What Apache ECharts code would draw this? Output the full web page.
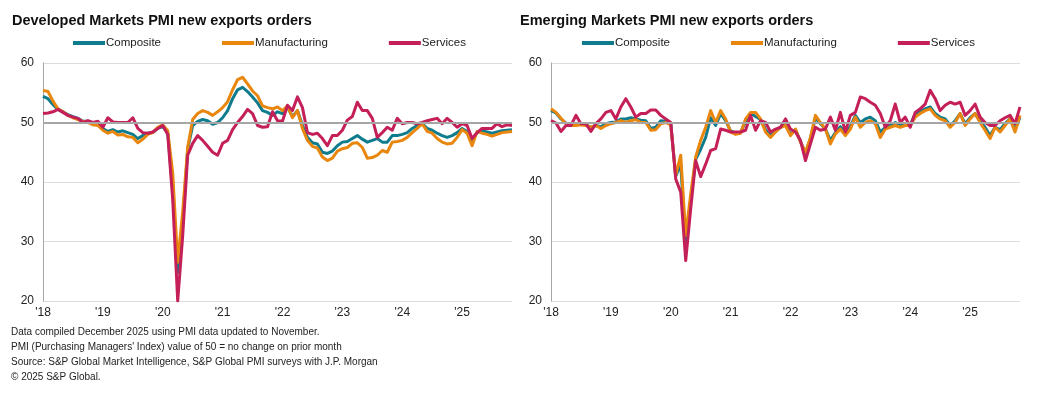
<!DOCTYPE html>
<html>
<head>
<meta charset="utf-8">
<script src="https://cdn.jsdelivr.net/npm/echarts@6/dist/echarts.min.js"></script>
<style>
html,body{margin:0;padding:0;background:#fff;}
#chart{width:1038px;height:393px;}
</style>
</head>
<body>
<div id="chart"></div>
<script>
// Monthly categories Jan 2018 .. Nov 2025
const months = [];
for (let y = 2018; y <= 2025; y++) {
  for (let m = 1; m <= 12; m++) {
    if (y === 2025 && m > 11) break;
    months.push(y + '-' + (m < 10 ? '0' + m : m));
  }
}
const tickLabels = ["'18","'19","'20","'21","'22","'23","'24","'25"];
const seriesNames = ['Composite', 'Manufacturing', 'Services'];

// Developed markets
const dmComposite = [54.4,54.0,53.0,52.2,51.8,51.3,51.0,50.7,50.2,50.2,49.8,49.6,
  49.0,48.5,48.8,48.4,48.6,48.3,48.0,47.3,47.8,48.2,48.3,49.0,
  49.3,48.3,38.5,24.8,33.0,45.5,49.5,50.2,50.5,50.3,49.7,50.0,
  50.8,52.0,54.0,55.5,55.9,55.2,54.3,53.3,52.0,51.7,51.2,51.8,
  51.5,52.5,51.0,52.0,49.5,47.5,46.6,46.4,45.0,44.8,45.2,46.1,
  46.7,46.8,47.3,47.8,47.2,46.7,47.0,47.3,46.7,46.7,47.8,47.8,
  48.0,48.3,49.0,49.5,49.8,49.0,48.7,48.2,47.8,47.5,47.8,48.3,
  49.0,48.5,47.0,48.3,48.6,48.4,48.2,48.4,48.6,48.7,48.8];
const dmManufacturing = [55.4,55.2,53.6,52.3,51.8,51.2,50.8,50.5,50.2,50.0,49.6,49.5,
  48.7,48.2,48.5,47.9,48.0,47.6,47.5,46.6,47.2,48.0,48.3,49.2,
  49.6,48.6,41.5,26.5,35.0,45.8,50.5,51.5,52.0,51.7,51.2,51.8,
  52.5,53.5,55.5,57.2,57.6,56.5,55.3,54.5,52.8,52.5,52.3,52.6,
  52.0,52.8,50.8,52.0,49.0,47.0,46.0,45.7,44.2,43.6,44.0,45.2,
  45.6,45.8,46.5,46.6,45.8,44.0,44.1,44.5,45.3,45.0,46.7,46.8,
  47.0,47.5,48.3,49.0,49.8,48.5,48.2,47.3,46.7,46.4,46.5,47.5,
  48.8,48.2,46.1,48.5,48.2,48.0,47.7,48.0,48.3,48.4,48.5];
const dmServices = [51.5,51.6,51.8,52.2,51.7,51.2,50.9,50.7,50.0,50.3,50.0,50.2,
  49.2,50.8,50.1,50.0,50.0,50.0,50.8,49.0,48.3,48.2,48.4,49.0,
  49.5,48.0,37.0,20.0,31.0,44.5,46.5,47.8,47.0,46.0,45.0,44.5,
  46.5,47.0,48.8,50.0,51.0,52.2,51.5,49.5,49.2,49.3,51.8,50.3,
  50.2,52.9,52.0,54.3,52.5,48.3,48.0,48.2,47.3,46.1,47.8,47.8,
  48.7,50.4,51.0,53.4,52.0,52.0,50.7,47.5,48.3,49.2,48.7,50.7,
  49.8,50.0,50.0,49.8,50.0,50.3,50.5,50.7,49.8,50.7,50.0,49.2,
  49.8,49.5,47.3,48.3,49.0,49.0,49.0,49.8,49.3,49.6,49.5];

// Emerging markets
const emComposite = [52.0,51.6,50.6,49.9,49.6,49.8,49.7,49.6,49.2,49.5,49.3,49.8,
  50.0,50.1,50.6,50.6,50.8,50.6,50.4,50.3,49.0,49.2,50.3,50.2,
  49.8,41.0,43.0,29.5,37.0,43.8,45.5,47.5,50.8,49.5,51.5,50.3,
  48.6,48.2,48.3,50.2,51.5,51.0,50.5,48.8,47.8,48.5,49.2,49.7,
  48.0,48.8,46.8,44.8,47.3,50.8,49.8,48.9,47.0,48.3,49.3,48.4,
  49.3,51.2,50.0,50.6,50.9,50.3,48.4,49.2,49.5,50.0,49.4,49.8,
  49.6,51.5,51.8,52.3,52.6,51.5,50.9,50.6,49.5,50.3,51.5,49.8,
  50.8,51.5,50.2,49.2,47.8,49.2,48.8,49.8,50.6,48.8,50.9];
const emManufacturing = [52.3,51.7,50.7,49.8,49.5,49.5,49.6,49.5,49.2,49.5,49.0,49.5,
  49.8,50.0,50.3,50.0,50.3,50.5,50.0,50.0,48.7,48.8,49.8,50.0,
  49.6,41.1,44.5,31.0,38.0,44.2,47.0,49.2,52.0,50.0,52.0,50.6,
  48.4,48.0,48.2,50.6,51.7,51.7,50.6,48.4,47.5,48.4,49.2,49.5,
  47.8,48.9,46.7,45.0,47.5,51.2,50.0,48.9,46.4,48.1,48.9,47.8,
  48.9,50.9,49.2,50.0,50.3,49.8,47.5,48.9,49.2,49.5,49.2,49.5,
  49.5,50.9,51.5,52.0,52.3,51.2,50.6,50.3,49.2,50.0,51.5,49.5,
  50.6,51.5,50.0,48.7,47.3,49.2,48.4,49.5,50.6,48.4,51.2];
const emServices = [50.3,49.9,48.5,49.5,49.5,51.2,49.8,49.8,48.5,49.8,50.6,51.7,
  52.0,50.6,52.6,54.0,52.6,50.9,51.5,51.5,52.1,52.1,51.2,50.6,
  50.0,40.5,38.3,26.8,35.5,43.6,40.9,43.0,45.3,45.6,48.9,48.7,
  48.4,48.4,48.4,48.7,51.2,48.7,50.3,50.0,48.4,48.9,49.2,50.6,
  48.9,48.4,47.0,43.6,46.4,49.2,48.7,48.9,50.9,48.7,51.7,48.4,
  51.2,51.7,54.3,54.0,53.4,52.9,51.5,49.2,50.3,53.1,50.0,50.9,
  49.2,51.7,52.3,53.1,55.4,54.0,52.0,52.9,53.4,53.1,53.4,51.2,
  52.0,53.1,50.9,50.0,49.5,49.5,50.3,50.8,51.2,49.8,52.6];

const footnotes = [
  'Data compiled December 2025 using PMI data updated to November.',
  "PMI (Purchasing Managers' Index) value of 50 = no change on prior month",
  'Source: S&P Global Market Intelligence, S&P Global PMI surveys with J.P. Morgan',
  '\u00A9 2025 S&P Global.'
];

const COLORS = ['#0F7C8E', '#E8860E', '#C41F58'];
const FONT = '"Liberation Sans", Arial, sans-serif';

const chart = echarts.init(document.getElementById('chart'), null, {renderer: 'canvas'});

function xAxisFor(gi) {
  return {
    type: 'category', gridIndex: gi, data: months, boundaryGap: false,
    axisLine: {show: false}, axisTick: {show: false},
    splitLine: {show: false},
    axisLabel: {
      interval: (idx, val) => val.endsWith('-01'),
      formatter: (val) => tickLabels[parseInt(val.slice(0,4)) - 2018],
      color: '#222', fontSize: 12, fontFamily: FONT, margin: 6
    }
  };
}
function yAxisFor(gi) {
  return {
    type: 'value', gridIndex: gi, min: 20, max: 60, interval: 10,
    axisLine: {show: true, lineStyle: {color: '#a6a6a6', width: 1}},
    axisTick: {show: false},
    splitLine: {show: true, lineStyle: {color: '#dcdcdc', width: 1}},
    axisLabel: {color: '#222', fontSize: 12, fontFamily: FONT, margin: 9}
  };
}
function lineSeries(name, data, gi, ci) {
  return {
    name: name, type: 'line', xAxisIndex: gi, yAxisIndex: gi, data: data,
    showSymbol: false, symbol: 'none', smooth: false, z: 3,
    lineStyle: {color: COLORS[ci], width: 3, join: 'round'},
    itemStyle: {color: COLORS[ci]},
    emphasis: {disabled: true}
  };
}
function refLine(gi) {
  return {
    type: 'line', xAxisIndex: gi, yAxisIndex: gi, data: [], z: 2, silent: true,
    markLine: {
      silent: true, symbol: 'none', label: {show: false},
      lineStyle: {color: '#a6a6a6', width: 2, type: 'solid'},
      data: [{yAxis: 50}]
    }
  };
}
function legendFor(left) {
  return {
    left: left, top: 37, padding: 0, data: seriesNames, icon: 'rect',
    itemWidth: 32, itemHeight: 4, itemGap: 61,
    textStyle: {color: '#222', fontSize: 11.5, fontFamily: FONT, padding: [0,0,0,-4]},
    selectedMode: false
  };
}

chart.setOption({
  animation: false,
  backgroundColor: '#fff',
  title: [
    {text: 'Developed Markets PMI new exports orders', left: 7, top: 8,
     textStyle: {fontSize: 14.5, fontWeight: 'bold', color: '#111', fontFamily: FONT}},
    {text: 'Emerging Markets PMI new exports orders', left: 515, top: 8,
     textStyle: {fontSize: 14.5, fontWeight: 'bold', color: '#111', fontFamily: FONT}}
  ],
  legend: [legendFor(73), legendFor(582)],
  grid: [
    {left: 43, top: 63, width: 469, height: 238},
    {left: 551, top: 63, width: 469, height: 238}
  ],
  xAxis: [xAxisFor(0), xAxisFor(1)],
  yAxis: [yAxisFor(0), yAxisFor(1)],
  series: [
    refLine(0), refLine(1),
    lineSeries('Composite', dmComposite, 0, 0),
    lineSeries('Manufacturing', dmManufacturing, 0, 1),
    lineSeries('Services', dmServices, 0, 2),
    lineSeries('Composite', emComposite, 1, 0),
    lineSeries('Manufacturing', emManufacturing, 1, 1),
    lineSeries('Services', emServices, 1, 2)
  ],
  graphic: footnotes.map((t, i) => ({
    type: 'text', left: 11, top: 327 + i * 15,
    style: {text: t, fill: '#222', font: '10px ' + FONT}
  }))
});
</script>
</body>
</html>
